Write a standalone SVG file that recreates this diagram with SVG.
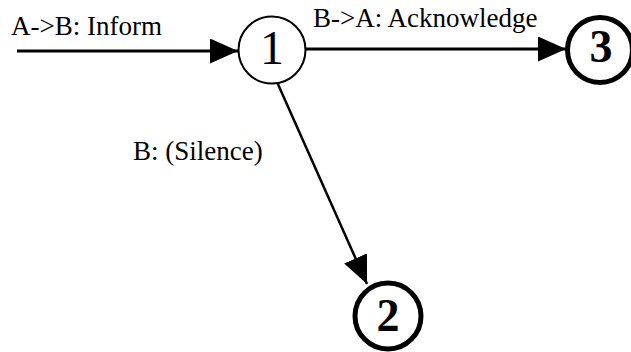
<svg xmlns="http://www.w3.org/2000/svg" width="631" height="352" viewBox="0 0 631 352">
  <style>
    .state { fill: #fff; stroke: #000; }
    .edge { stroke: #000; fill: none; }
    text { font-family: "Liberation Serif", Tinos, "DejaVu Serif", serif; fill: #000; }
    .lbl { font-size: 27px; }
    .num { text-anchor: middle; }
  </style>
  <defs>
    <marker id="head" markerUnits="userSpaceOnUse" markerWidth="30" markerHeight="26" refX="28" refY="12.5" orient="auto">
      <path d="M0,0 L28,12.5 L0,25 Z" fill="#000"/>
    </marker>
  </defs>
  <rect width="631" height="352" fill="#fff"/>

  <g id="connectors">
    <line class="edge" x1="17" y1="51" x2="238" y2="51" stroke-width="3" marker-end="url(#head)"/>
    <line class="edge" x1="306" y1="49" x2="566" y2="49" stroke-width="3" marker-end="url(#head)"/>
    <line class="edge" x1="277" y1="82" x2="367" y2="284" stroke-width="2.5" marker-end="url(#head)"/>
  </g>

  <g id="labels">
    <text class="lbl" x="11" y="35">A-&gt;B: Inform</text>
    <text class="lbl" x="313" y="27">B-&gt;A: Acknowledge</text>
    <text class="lbl" x="133" y="160">B: (Silence)</text>
  </g>

  <g id="node1">
    <circle class="state" cx="272" cy="50" r="33.5" stroke-width="2"/>
    <text class="num" x="272" y="64" font-size="48">1</text>
  </g>
  <g id="node3">
    <circle class="state" cx="600" cy="50" r="32.5" stroke-width="5"/>
    <text class="num" x="601" y="62" font-size="46" font-weight="bold">3</text>
  </g>
  <g id="node2">
    <circle class="state" cx="388" cy="316" r="33" stroke-width="5"/>
    <text class="num" x="388" y="331" font-size="46" font-weight="bold">2</text>
  </g>
</svg>
